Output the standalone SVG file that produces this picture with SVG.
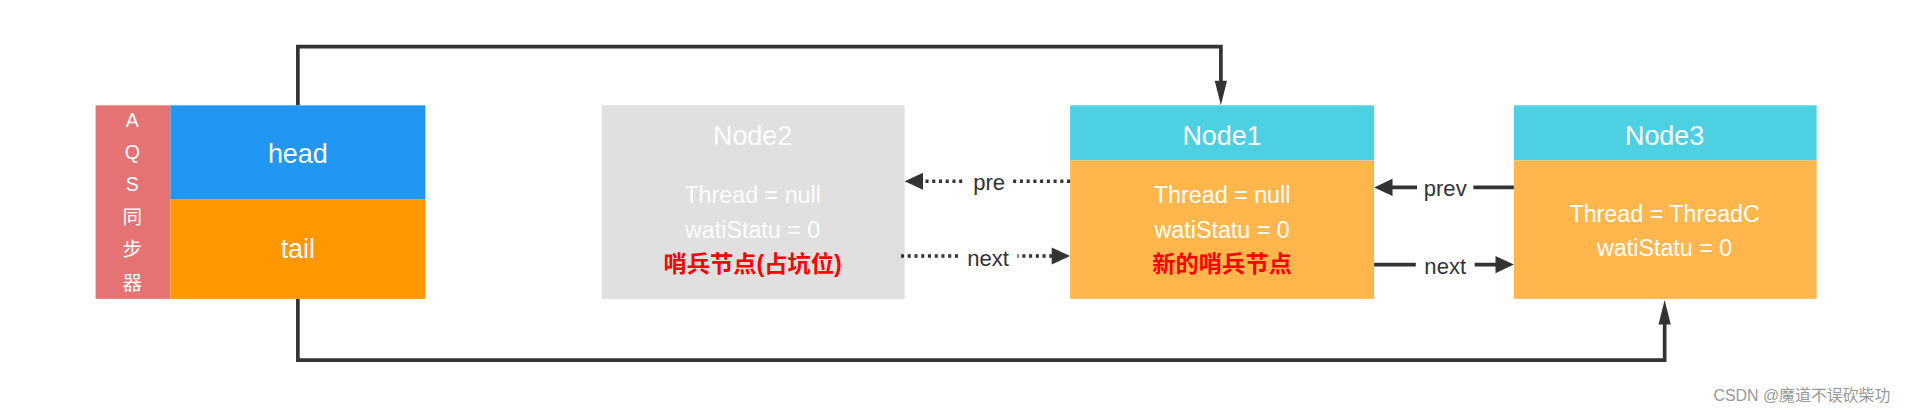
<svg xmlns="http://www.w3.org/2000/svg" width="1922" height="414" viewBox="0 0 1922 414">
<defs>
<style>
text{font-family:"Helvetica","Liberation Sans","Noto Sans CJK SC",sans-serif;text-anchor:middle}
.w{fill:#fff}
.t{font-size:22px}
.b{font-size:19px}
.red{fill:#ff0000;font-size:19px;font-weight:bold}
.lbl{fill:#333;font-size:18px}
.ln{stroke:#333;stroke-width:3;fill:none}
.dt{stroke:#333;stroke-width:3;fill:none;stroke-dasharray:2.5 3}
.ah{fill:#333}
</style>
</defs>
<rect width="1922" height="414" fill="#fff"/>
<g transform="scale(1.2258,1.2249)">
<g id="aqs">
<rect x="78" y="86" width="61" height="158" fill="#e57373"/>
<g class="w" style="font-size:16px">
<text x="108" y="104">A</text><text x="108" y="130">Q</text><text x="108" y="156">S</text>
<text x="108" y="183">同</text><text x="108" y="209">步</text><text x="108" y="237">器</text>
</g>
<rect x="139" y="86" width="208" height="77" fill="#2196f3"/>
<rect x="139" y="163" width="208" height="81" fill="#ff9800"/>
<text class="w t" x="243" y="133">head</text>
<text class="w t" x="243" y="211">tail</text>
</g>
<g id="node2">
<rect x="491" y="86" width="247" height="158" fill="#e0e0e0"/>
<text class="w t" x="614" y="118">Node2</text>
<text class="w b" x="614" y="166">Thread = null</text>
<text class="w b" x="614" y="194">watiStatu = 0</text>
<text class="red" x="614" y="222">哨兵节点(占坑位)</text>
</g>
<g id="node1">
<rect x="873" y="86" width="248" height="45" fill="#4dd0e1"/>
<rect x="873" y="131" width="248" height="113" fill="#ffb74d"/>
<text class="w t" x="997" y="118">Node1</text>
<text class="w b" x="997" y="166">Thread = null</text>
<text class="w b" x="997" y="194">watiStatu = 0</text>
<text class="red" x="997" y="222">新的哨兵节点</text>
</g>
<g id="node3">
<rect x="1235" y="86" width="247" height="45" fill="#4dd0e1"/>
<rect x="1235" y="131" width="247" height="113" fill="#ffb74d"/>
<text class="w t" x="1358" y="118">Node3</text>
<text class="w b" x="1358" y="181">Thread = ThreadC</text>
<text class="w b" x="1358" y="209">watiStatu = 0</text>
</g>
<g id="connectors">
<path class="ln" d="M243,86 V38 H996 V70"/>
<path class="ah" d="M991,66 L996,86 L1001,66 z"/>
<path class="ln" d="M243,244 V294 H1358 V262"/>
<path class="ah" d="M1353,265 L1358,245 L1363,265 z"/>
<path class="dt" d="M873,148 H752"/>
<path class="ah" d="M753,141 L738,148 L753,155 z"/>
<rect x="788" y="138" width="38" height="20" fill="#fff"/>
<text class="lbl" x="807" y="155">pre</text>
<path class="dt" d="M735,209 H860"/>
<path class="ah" d="M858,202 L873,209 L858,216 z"/>
<rect x="782" y="199" width="48" height="20" fill="#fff"/>
<text class="lbl" x="806" y="217">next</text>
<path class="ln" d="M1235,153 H1134"/>
<path class="ah" d="M1136,146 L1121,153 L1136,160 z"/>
<rect x="1156" y="143" width="46" height="20" fill="#fff"/>
<text class="lbl" x="1179" y="160">prev</text>
<path class="ln" d="M1121,216 H1222"/>
<path class="ah" d="M1220,209 L1235,216 L1220,223 z"/>
<rect x="1155" y="206" width="48" height="20" fill="#fff"/>
<text class="lbl" x="1179" y="224">next</text>
</g>
<text x="1470" y="327" style="font-size:13px;fill:#999">CSDN @魔道不误砍柴功</text>
</g>
</svg>
